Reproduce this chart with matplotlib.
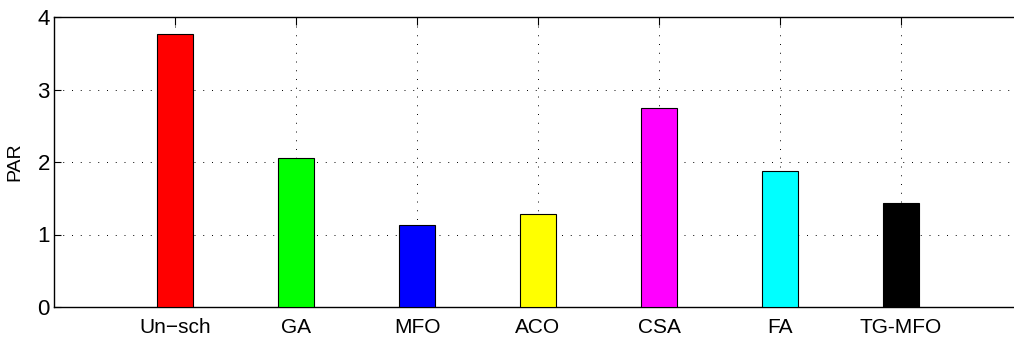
import numpy as np
import matplotlib.pyplot as plt

plt.rcParams['font.family'] = ['Liberation Sans Narrow', 'Liberation Sans', 'DejaVu Sans']

# datos
metodos = ["Un\u2212sch", "GA", "MFO", "ACO", "CSA", "FA", "TG-MFO"]
par = [3.77, 2.06, 1.13, 1.28, 2.74, 1.88, 1.44]
colores = ["#ff0000", "#00ff00", "#0000ff", "#ffff00", "#ff00ff", "#00ffff", "#000000"]

fig = plt.figure(figsize=(10.14, 3.42), dpi=100)
# el eje se sale por la derecha (recortado como en el original)
ax = fig.add_axes([54/1014, 1 - 307/342, (1022 - 54)/1014, (307 - 17)/342])

x = np.arange(1, len(metodos) + 1)
ax.bar(x, par, width=0.3, color=colores, edgecolor="black", linewidth=0.8, zorder=3)

ax.set_xlim(0, 8)
ax.set_ylim(0, 4)
ax.set_xticks(x)
ax.set_xticklabels(metodos, fontsize=15)
ax.set_yticks([0, 1, 2, 3, 4])
ax.tick_params(axis="y", labelsize=16, direction="in", length=5, right=False, pad=3)
ax.tick_params(axis="x", direction="in", length=6, top=True, pad=8)
ax.set_ylabel("PAR", fontsize=14, labelpad=10)

ax.grid(True, linestyle=(0, (1, 8)), color="black", linewidth=0.7, zorder=0)
ax.set_axisbelow(True)
ax.spines["right"].set_visible(False)
for s in ["top", "bottom", "left"]:
    ax.spines[s].set_linewidth(1.0)

plt.savefig("out.png", dpi=100)
plt.close()
